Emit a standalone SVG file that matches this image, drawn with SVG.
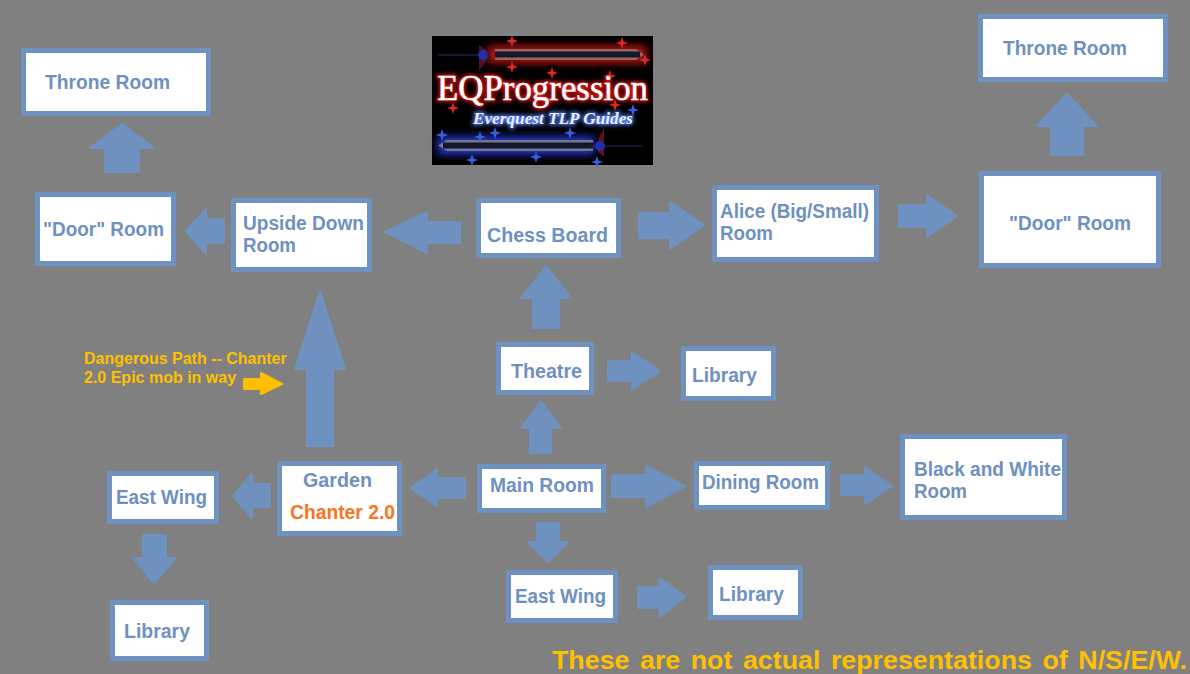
<svg xmlns="http://www.w3.org/2000/svg" width="1190" height="674" viewBox="0 0 1190 674">
<style>
.b{fill:#fff;stroke:#6e91bf;stroke-width:5}
.a{fill:#6e91bf;stroke:#6e91bf;stroke-width:2;stroke-linejoin:round}
.ya{fill:#ffc000;stroke:#ffc000;stroke-width:2;stroke-linejoin:round}
.t{font:bold 20px "Liberation Sans",Arial,sans-serif;fill:#6e91bf}
.y{font:bold 16px "Liberation Sans",Arial,sans-serif;fill:#ffc000}
.l1{font-family:"Liberation Serif",serif;font-size:35px}
.l2{font-family:"Liberation Serif",serif;font-style:italic;font-size:17px;font-weight:bold}
.rs{fill:#e02828}.bs{fill:#3560e0}
</style>
<defs>
<filter id="gr" x="-20%" y="-100%" width="140%" height="300%"><feGaussianBlur stdDeviation="4"/></filter>
<filter id="gt" x="-10%" y="-40%" width="120%" height="180%"><feGaussianBlur stdDeviation="2.200"/></filter>
<filter id="gs" x="-10%" y="-10%" width="120%" height="120%"><feGaussianBlur stdDeviation=".6"/></filter>
<path id="st" d="M0-6L1.500-1.500L6 0L1.500 1.500L0 6L-1.500 1.500L-6 0L-1.500-1.500Z"/>
</defs>
<rect width="1190" height="674" fill="#808080"/>
<g id="logo">
<rect x="432" y="36" width="221" height="129" fill="#000"/>
<rect x="488" y="46" width="158" height="17" fill="#b81414" filter="url(#gr)"/>
<rect x="438" y="137" width="156" height="17" fill="#2a3ae0" filter="url(#gr)"/>
<path d="M495 49H636L644 54.500L636 60H495Z" fill="#98685c"/><path d="M495 51.500H640V57.500H495Z" fill="#16162c"/>
<path d="M593 140H447L438 145.500L447 151H593Z" fill="#707890"/><path d="M593 142.500H443V148.500H593Z" fill="#16162c"/>
<path d="M438 55H478" stroke="#141a34" stroke-width="2"/><path d="M479 45L487 50V60L479 71Z" fill="#501020"/><circle cx="483" cy="55" r="5" fill="#2030a8"/>
<path d="M602 146H642" stroke="#141a34" stroke-width="2"/><path d="M604 128L598 140V152L604 157Z" fill="#601020"/><circle cx="600" cy="146" r="5" fill="#2030a8"/>
<g class="rs" filter="url(#gs)"><use href="#st" x="512" y="41"/><use href="#st" x="622" y="43"/><use href="#st" x="645" y="60"/><use href="#st" x="512" y="67"/><use href="#st" x="552" y="73"/><use href="#st" x="610" y="76"/><use href="#st" x="453" y="108"/><use href="#st" x="615" y="105"/></g>
<g class="bs" filter="url(#gs)"><use href="#st" x="442" y="135"/><use href="#st" x="495" y="133"/><use href="#st" x="570" y="133"/><use href="#st" x="633" y="110"/><use href="#st" x="480" y="137"/><use href="#st" x="472" y="160"/><use href="#st" x="536" y="157"/><use href="#st" x="597" y="162"/></g>
<text class="l1" x="437" y="100" textLength="211" lengthAdjust="spacingAndGlyphs" fill="#f01818" stroke="#f01818" stroke-width="3" filter="url(#gt)">EQProgression</text>
<text class="l1" x="437" y="100" textLength="211" lengthAdjust="spacingAndGlyphs" fill="#fff" stroke="#fff" stroke-width=".5">EQProgression</text>
<text class="l2" x="473" y="124" textLength="160" lengthAdjust="spacingAndGlyphs" fill="#5a80ff" stroke="#5a80ff" stroke-width="2" filter="url(#gt)">Everquest TLP Guides</text>
<text class="l2" x="473" y="124" textLength="160" lengthAdjust="spacingAndGlyphs" fill="#e8f0ff">Everquest TLP Guides</text>
</g>
<g id="connectors">
<path class="a" d="M639 213H670V202L704 225L670 249V238H639Z"/>
<path class="a" d="M899 205H927V195L957 216L927 237V227H899Z"/>
<path class="a" d="M460 222H427V212L385 232L427 253V243H460Z"/>
<path class="a" d="M224 219H206V209L186 231L206 254V243H224Z"/>
<path class="a" d="M105 172V148H90L122 124L154 148H139V172Z"/>
<path class="a" d="M1051 155V126H1037L1067 94L1097 126H1083V155Z"/>
<path class="a" d="M533 328V298H521L546 266L571 298H559V328Z"/>
<path class="a" d="M530 453V428H521L541 401L561 428H551V453Z"/>
<path class="a" d="M608 361H632V352L660 371L632 390V381H608Z"/>
<path class="a" d="M612 475H646V466L685 486L646 507V497H612Z"/>
<path class="a" d="M841 475H865V467L892 486L865 504V495H841Z"/>
<path class="a" d="M465 478H437V469L411 488L437 507V498H465Z"/>
<path class="a" d="M270 484H252V474L233 496L252 518V507H270Z"/>
<path class="a" d="M307 446V369H295L320 291L345 369H333V446Z"/>
<path class="ya" d="M244 379H261V373L282 384L261 394V389H244Z"/>
<path class="a" d="M143 535H166V558H176L154 583L133 558H143Z"/>
<path class="a" d="M537 523H559V542H568L548 562L528 542H537Z"/>
<path class="a" d="M638 587H660V578L685 597L660 617V608H638Z"/>
</g>
<g id="throne-left"><rect class="b" x="23.500" y="50.500" width="185" height="63"/><text class="t" x="45" y="89" textLength="125" lengthAdjust="spacingAndGlyphs">Throne Room</text></g>
<g id="door-left"><rect class="b" x="37.500" y="194.500" width="136" height="69"/><text class="t" x="43" y="236" textLength="121" lengthAdjust="spacingAndGlyphs">"Door" Room</text></g>
<g id="upside-down"><rect class="b" x="233.500" y="200.500" width="136" height="69"/><text class="t" x="243" y="230" textLength="121" lengthAdjust="spacingAndGlyphs">Upside Down</text><text class="t" x="243" y="252" textLength="53" lengthAdjust="spacingAndGlyphs">Room</text></g>
<g id="chess"><rect class="b" x="478.500" y="200.500" width="140" height="55"/><text class="t" x="487" y="242" textLength="121" lengthAdjust="spacingAndGlyphs">Chess Board</text></g>
<g id="alice"><rect class="b" x="714.500" y="187.500" width="162" height="72"/><text class="t" x="720" y="218" textLength="149" lengthAdjust="spacingAndGlyphs">Alice (Big/Small)</text><text class="t" x="720" y="240" textLength="53" lengthAdjust="spacingAndGlyphs">Room</text></g>
<g id="door-right"><rect class="b" x="981.500" y="173.500" width="177" height="92"/><text class="t" x="1009" y="230" textLength="122" lengthAdjust="spacingAndGlyphs">"Door" Room</text></g>
<g id="throne-right"><rect class="b" x="980.500" y="16.500" width="185" height="63"/><text class="t" x="1003" y="55" textLength="124" lengthAdjust="spacingAndGlyphs">Throne Room</text></g>
<g id="theatre"><rect class="b" x="498.500" y="344.500" width="93" height="48"/><text class="t" x="511" y="378" textLength="71" lengthAdjust="spacingAndGlyphs">Theatre</text></g>
<g id="library-1"><rect class="b" x="683.500" y="348.500" width="90" height="50"/><text class="t" x="692" y="382" textLength="65" lengthAdjust="spacingAndGlyphs">Library</text></g>
<g id="main"><rect class="b" x="479.500" y="466.500" width="124" height="44"/><text class="t" x="490" y="492" textLength="104" lengthAdjust="spacingAndGlyphs">Main Room</text></g>
<g id="dining"><rect class="b" x="696.500" y="463.500" width="131" height="44"/><text class="t" x="702" y="489" textLength="117" lengthAdjust="spacingAndGlyphs">Dining Room</text></g>
<g id="black-white"><rect class="b" x="902.500" y="436.500" width="162" height="81"/><text class="t" x="914" y="476" textLength="147" lengthAdjust="spacingAndGlyphs">Black and White</text><text class="t" x="914" y="498" textLength="53" lengthAdjust="spacingAndGlyphs">Room</text></g>
<g id="garden"><rect class="b" x="279.500" y="463.500" width="120" height="70"/><text class="t" x="303" y="487" textLength="69" lengthAdjust="spacingAndGlyphs">Garden</text><text class="t" x="290" y="519" textLength="105" lengthAdjust="spacingAndGlyphs" style="fill:#f97520">Chanter 2.0</text></g>
<g id="east-wing-left"><rect class="b" x="109.500" y="473.500" width="107" height="48"/><text class="t" x="116" y="504" textLength="91" lengthAdjust="spacingAndGlyphs">East Wing</text></g>
<g id="library-2"><rect class="b" x="112.500" y="602.500" width="94" height="56"/><text class="t" x="124" y="638" textLength="66" lengthAdjust="spacingAndGlyphs">Library</text></g>
<g id="east-wing-bottom"><rect class="b" x="508.500" y="572.500" width="107" height="48"/><text class="t" x="515" y="603" textLength="91" lengthAdjust="spacingAndGlyphs">East Wing</text></g>
<g id="library-3"><rect class="b" x="710.500" y="567.500" width="90" height="50"/><text class="t" x="719" y="601" textLength="65" lengthAdjust="spacingAndGlyphs">Library</text></g>
<text class="y" x="84" y="364">Dangerous Path -- Chanter</text>
<text class="y" x="84" y="383">2.0 Epic mob in way</text>
<text x="552" y="669" font-family="Liberation Sans,Arial,sans-serif" font-weight="bold" font-size="26" word-spacing="3" fill="#ffc000" textLength="635" lengthAdjust="spacingAndGlyphs">These are not actual representations of N/S/E/W.</text>
</svg>
